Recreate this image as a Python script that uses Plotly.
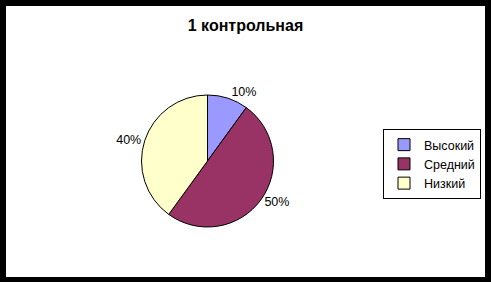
import plotly.graph_objects as go

categories = ["Высокий", "Средний", "Низкий"]
values = [10, 50, 40]
colors = ["#9999FF", "#993366", "#FFFFCC"]
title_text = "1 контрольная"

W, H = 491, 282
cx, cy, r = 207.5, 161, 66  # pie centre / radius in pixels

fig = go.Figure()
fig.add_trace(go.Pie(
    labels=categories,
    values=values,
    sort=False,
    direction="clockwise",
    rotation=0,
    marker=dict(colors=colors, line=dict(color="black", width=1)),
    textposition="outside",
    texttemplate="%{percent:.0%}",
    textfont=dict(family="Liberation Sans, Arial, sans-serif", size=12.5, color="black"),
    hoverinfo="label+percent",
    domain=dict(x=[(cx - r) / W, (cx + r) / W], y=[(H - cy - r) / H, (H - cy + r) / H]),
))

fig.update_layout(
    width=W, height=H,
    margin=dict(l=0, r=0, t=0, b=0, autoexpand=False),
    paper_bgcolor="black",
    plot_bgcolor="white",
    font=dict(family="Liberation Sans, Arial, sans-serif", size=12.5, color="black"),
    title=dict(text="<b>" + title_text + "</b>", x=245.5 / W, xanchor="center",
               y=1 - 25 / H, yanchor="middle", yref="container",
               font=dict(size=16, color="black")),
    legend=dict(x=481 / W, xanchor="right", y=1 - 129 / H, yanchor="top",
                bordercolor="black", borderwidth=1, bgcolor="white",
                font=dict(size=12.5), itemwidth=30, tracegroupgap=0),
    shapes=[dict(type="rect", xref="paper", yref="paper", layer="below",
                 x0=6 / W, x1=485 / W, y0=5 / H, y1=1 - 6 / H,
                 fillcolor="white", line=dict(width=0))],
)

fig.write_html("out.html")
